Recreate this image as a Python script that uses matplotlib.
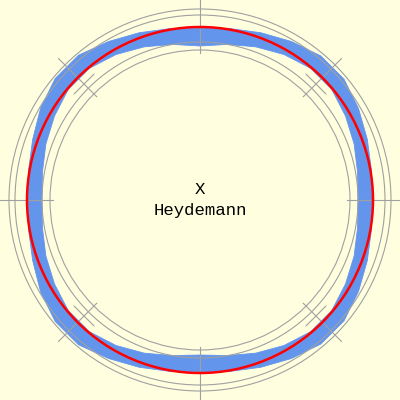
import numpy as np
import matplotlib
matplotlib.use("Agg")
import matplotlib.pyplot as plt
from matplotlib.patches import Circle, Polygon

# ---- data (pixel-like units, centre = 0) ----
band_angle_deg = [0, 10, 20, 30, 40, 50, 60, 70, 80, 90, 100, 110,
                  120, 130, 140, 150, 160, 170, 180, 190, 200, 210, 220, 230,
                  240, 250, 260, 270, 280, 290, 300, 310, 320, 330, 340, 350]
band_inner = [158, 160, 164, 168, 172, 172, 168, 163, 158, 154, 158, 163,
              168, 172, 172, 168, 164, 160, 158, 160, 164, 168, 172, 172,
              168, 163, 158, 155, 158, 163, 168, 172, 172, 168, 164, 160]
band_outer = [172, 174, 178, 183, 188, 188, 183, 178, 174, 172, 174, 178,
              183, 189, 189, 184, 178, 174, 172, 174, 178, 184, 189, 189,
              183, 178, 174, 172, 174, 178, 183, 188, 188, 183, 178, 174]
fit_radius = 173
ref_radii = [191, 185, 158, 150]
axis_angles_deg = [0, 90, 180, 270]
diag_angles_deg = [45, 135, 225, 315]
label_lines = ["X", "Heydemann"]

BG = "#ffffe0"
GRAY = "#a0a0a0"
BLUE = "#6495ed"
RED = "#ff0000"

fig = plt.figure(figsize=(4, 4), dpi=100, facecolor=BG)
ax = fig.add_axes([0, 0, 1, 1])
ax.set_facecolor(BG)
ax.set_xlim(-200, 200)
ax.set_ylim(-200, 200)
ax.set_aspect("equal")
ax.axis("off")

# blue data band (outer edge then inner edge reversed)
th = np.deg2rad(np.array(band_angle_deg + [band_angle_deg[0] + 360]))
ro = np.array(band_outer + [band_outer[0]], dtype=float)
ri = np.array(band_inner + [band_inner[0]], dtype=float)
xs = np.concatenate([ro * np.cos(th), (ri * np.cos(th))[::-1]])
ys = np.concatenate([ro * np.sin(th), (ri * np.sin(th))[::-1]])
ax.add_patch(Polygon(np.column_stack([xs, ys]), closed=True,
                     facecolor=BLUE, edgecolor=BLUE, lw=0.6,
                     joinstyle="round", zorder=1))

# grey reference circles
for r in ref_radii:
    ax.add_patch(Circle((0, 0), r, fill=False, edgecolor=GRAY, lw=0.8, zorder=2))

# axis crosshair segments
for a in axis_angles_deg:
    t = np.deg2rad(a)
    ax.plot([147 * np.cos(t), 205 * np.cos(t)], [147 * np.sin(t), 205 * np.sin(t)],
            color=GRAY, lw=0.8, zorder=2)

# diagonal crosses
for a in diag_angles_deg:
    t = np.deg2rad(a)
    ax.plot([146 * np.cos(t), 200 * np.cos(t)], [146 * np.sin(t), 200 * np.sin(t)],
            color=GRAY, lw=0.8, zorder=2)
    cx, cy = 164 * np.cos(t), 164 * np.sin(t)
    px, py = -np.sin(t), np.cos(t)
    ax.plot([cx - 14 * px, cx + 14 * px], [cy - 14 * py, cy + 14 * py],
            color=GRAY, lw=0.8, zorder=2)

# red fitted circle
ax.add_patch(Circle((0, 0), fit_radius, fill=False, edgecolor=RED, lw=1.8, zorder=3))

# labels
ax.text(0, 11, label_lines[0], ha="center", va="center", fontsize=12.5,
        family="Liberation Mono", color="black")
ax.text(0, -10, label_lines[1], ha="center", va="center", fontsize=12.5,
        family="Liberation Mono", color="black")

fig.savefig("out.png", dpi=100, facecolor=BG)
